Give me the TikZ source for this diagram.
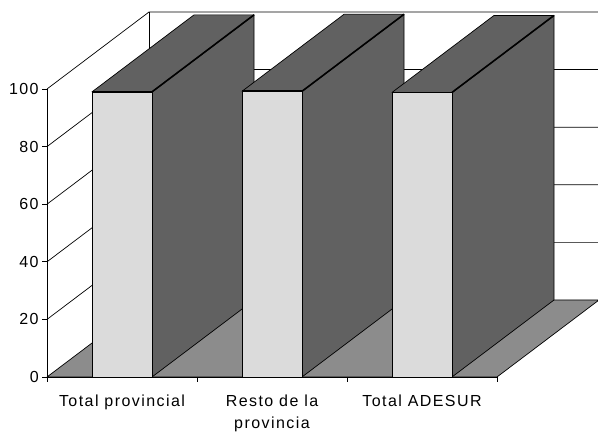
\documentclass[tikz,border=0pt]{standalone}
\usepackage{fontspec}
\setmainfont{Liberation Sans}[LetterSpace=9]
\begin{document}
\begin{tikzpicture}[x={(150pt,0pt)}, y={(0pt,2.88pt)}, z={(102pt,77pt)},
    line join=round, font=\fontsize{16}{22}\selectfont,
    wall/.style={draw=black, line width=0.7pt},
    frontface/.style={fill=black!14, draw=black, line width=0.7pt},
    sideface/.style={fill=black!62, draw=black, line width=0.7pt},
    floorface/.style={fill=black!45, draw=black, line width=0.7pt},
    catlabel/.style={anchor=north, align=center, inner sep=0pt}]
  \useasboundingbox (-47pt,-56pt) rectangle (551pt,377pt);
  % walls and grid
  \draw[wall] (0,0,0) -- (0,100,0);
  \draw[wall] (0,0,1) -- (0,100,1);
  \foreach \v in {20,40,...,100}
    \draw[wall] (0,\v,0) -- (0,\v,1) -- (3,\v,1);
  \draw[floorface] (0,0,0) -- (3,0,0) -- (3,0,1) -- (0,0,1) -- cycle;
  % bars
  \foreach \i/\v in {0/99,1/99.2,2/98.8} {
    \draw[sideface] (\i+0.7,0,0) -- (\i+0.7,0,1) -- (\i+0.7,\v,1) -- (\i+0.7,\v,0) -- cycle;
    \draw[sideface] (\i+0.3,\v,0) -- (\i+0.7,\v,0) -- (\i+0.7,\v,1) -- (\i+0.3,\v,1) -- cycle;
    \draw[line width=1.6pt] (\i+0.7,\v,0) -- (\i+0.7,\v,1);
    \draw[frontface] (\i+0.3,0,0) rectangle (\i+0.7,\v,0);
    \draw[line width=1.6pt] (\i+0.3,\v,0) -- (\i+0.7,\v,0);
  }
  % axes
  \draw[wall] (0,0,0) -- (3,0,0);
  \foreach \v in {0,20,...,100}
    \draw[wall] (0,\v,0) -- ++(-5pt,0pt) node[left, inner sep=3pt] (tick\v) {\v};
  \foreach \i in {0,...,3}
    \draw[wall] (\i,0,0) -- ++(0pt,-5pt);
  % categories
  \node[catlabel] (prov) at ([yshift=-18pt]0.5,0,0) {Total provincial};
  \node[catlabel] (resto) at ([yshift=-18pt]1.5,0,0) {Resto de la\\provincia};
  \node[catlabel] (adesur) at ([yshift=-18pt]2.5,0,0) {Total ADESUR};
\end{tikzpicture}
\end{document}
